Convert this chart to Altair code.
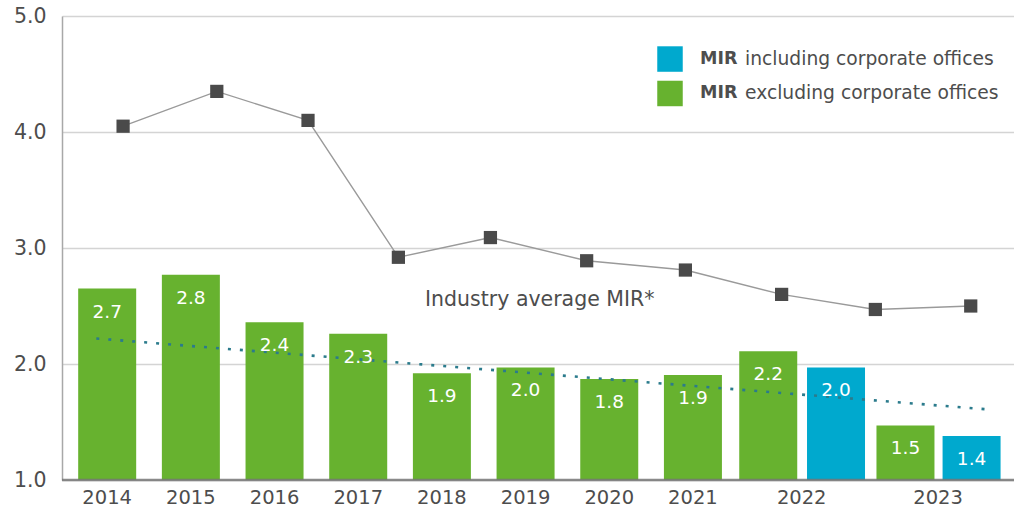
import altair as alt
import pandas as pd

# ---- data ----
bar_series = ["excl"] * 8 + ["excl", "incl", "excl", "incl"]
bar_pos = [0, 1, 2, 3, 4, 5, 6, 7, 7.9, 8.71, 9.54, 10.33]
bar_values = [2.65, 2.77, 2.36, 2.26, 1.92, 1.97, 1.87, 1.905, 2.11, 1.97, 1.47, 1.38]
bar_labels = ["2.7", "2.8", "2.4", "2.3", "1.9", "2.0", "1.8", "1.9", "2.2", "2.0", "1.5", "1.4"]

industry_pos = [0.19, 1.31, 2.40, 3.48, 4.58, 5.73, 6.91, 8.06, 9.18, 10.32]
industry_values = [4.05, 4.35, 4.10, 2.92, 3.09, 2.89, 2.81, 2.60, 2.47, 2.50]

trend_pos = [-0.13, 10.50]
trend_values = [2.22, 1.61]

year_labels = ["2014", "2015", "2016", "2017", "2018", "2019", "2020", "2021", "2022", "2023"]
year_label_pos = [0, 1, 2, 3, 4, 5, 6, 7, 8.3, 9.93]

series_names = ["incl", "excl"]
series_colors = ["#00a9ce", "#67b22f"]
legend_bold = ["MIR", "MIR"]
legend_rest = ["including corporate offices", "excluding corporate offices"]

FONT = "DejaVu Sans"
TXT = "#4d4d4d"
W, H = 952, 464

bars_df = pd.DataFrame({"pos": bar_pos, "value": bar_values, "label": bar_labels,
                        "series": bar_series, "base": [1.0] * len(bar_pos)})
ind_df = pd.DataFrame({"pos": industry_pos, "value": industry_values})
trend_df = pd.DataFrame({"pos": trend_pos, "value": trend_values})
years_df = pd.DataFrame({"pos": year_label_pos, "year": year_labels})

xscale = alt.Scale(domain=[-0.54, 10.837], nice=False, zero=False, padding=0)
yscale = alt.Scale(domain=[1, 5], nice=False, zero=False, padding=0)
yaxis = alt.Axis(values=[1, 2, 3, 4, 5], format=".1f", title=None, ticks=False,
                 grid=True, gridColor="#d4d4d4", gridWidth=1.5,
                 domain=True, domainColor="#a8a8a8", domainWidth=1.5,
                 labelFont=FONT, labelFontSize=20.5, labelColor=TXT, labelPadding=16)
X = alt.X("pos:Q", scale=xscale, axis=None)
Y = alt.Y("value:Q", scale=yscale, axis=yaxis)
color = alt.Color("series:N", scale=alt.Scale(domain=series_names, range=series_colors), legend=None)

bars = alt.Chart(bars_df).mark_bar(size=58).encode(
    x=X, y=Y, y2="base:Q", color=color
)

bar_text = alt.Chart(bars_df).mark_text(font=FONT, fontSize=18.5, color="white",
                                        baseline="middle", dy=23).encode(
    x=X, y=Y, text="label:N"
)

baseline_rule = alt.Chart(pd.DataFrame({"value": [1.0]})).mark_rule(
    color="#777777", strokeWidth=2.5, opacity=0.85).encode(
    y=Y, x=alt.value(0), x2=alt.value(W)
)

trend = alt.Chart(trend_df).mark_line(color="#2b7b8c", strokeWidth=2.6, strokeDash=[3, 9]).encode(
    x=X, y=Y
)

ind_line = alt.Chart(ind_df).mark_line(color="#9a9a9a", strokeWidth=1.4).encode(x=X, y=Y)
ind_pts = alt.Chart(ind_df).mark_point(shape="square", filled=True, size=175,
                                       color="#4a4a4a", opacity=1).encode(x=X, y=Y)

ind_label = alt.Chart(pd.DataFrame({"pos": [5.17], "value": [2.55], "t": ["Industry average MIR*"]})).mark_text(
    font=FONT, fontSize=20.5, color=TXT, align="center", baseline="middle").encode(
    x=X, y=Y, text="t:N"
)

year_text = alt.Chart(years_df).mark_text(font=FONT, fontSize=19.5, color=TXT, baseline="middle").encode(
    x=X, y=alt.value(H + 18), text="year:N"
)

leg_df = pd.DataFrame({"series": series_names, "bold": legend_bold, "rest": legend_rest,
                       "value": [4.629, 4.332]})
leg_sq = alt.Chart(leg_df).mark_square(size=650, opacity=1).encode(
    x=alt.value(670 - 62), y=Y, color=color)
leg_b = alt.Chart(leg_df).mark_text(font=FONT, fontSize=17.5, fontWeight="bold", color=TXT,
                                    align="left", baseline="middle").encode(
    x=alt.value(700 - 62), y=Y, text="bold:N")
leg_r = alt.Chart(leg_df).mark_text(font=FONT, fontSize=18.7, color=TXT,
                                    align="left", baseline="middle").encode(
    x=alt.value(745 - 62), y=Y, text="rest:N")

chart = alt.layer(bars, trend, bar_text, baseline_rule, ind_line, ind_pts, ind_label, year_text,
                  leg_sq, leg_b, leg_r).properties(
    width=W, height=H,
    autosize=alt.AutoSizeParams(type="none"),
    padding={"left": 62, "top": 16, "right": 0, "bottom": 33},
    background="white",
).configure_view(stroke=None)

chart.save("out.html", embed_options={"renderer": "svg", "actions": False})
